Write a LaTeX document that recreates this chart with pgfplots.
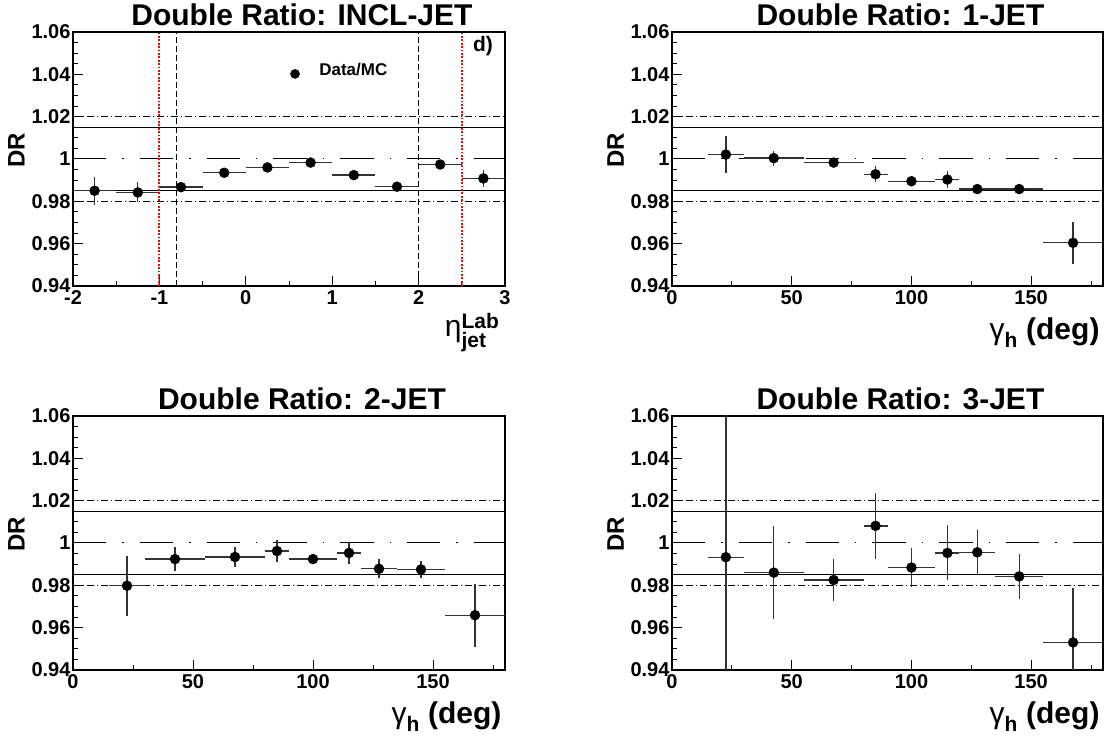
\documentclass[border=0pt]{standalone}
\usepackage{fontspec}
\setmainfont{Liberation Sans}
\usepackage{amsmath}
\usepackage{pgfplots}
\pgfplotsset{compat=1.18}
\newcommand\fsz[1]{\fontsize{#1}{#1}\selectfont\bfseries}
\definecolor{rootred}{RGB}{255,0,0}
\pgfplotsset{
  rootax/.style={
    scale only axis, height=254bp, anchor=south west,
    ymin=0.94, ymax=1.06,
    ytick={0.94,0.96,0.98,1,1.02,1.04,1.06},
    yticklabels={0.94,0.96,0.98,1,1.02,1.04,1.06},
    minor y tick num=3,
    tick align=inside, tick pos=left,
    major tick length=10bp, minor tick length=5bp,
    axis line style={line width=1.2bp},
    every tick/.style={black, line width=1bp},
    tick label style={font=\fsz{20bp}},
    xticklabel style={yshift=-1bp},
    yticklabel style={xshift=1bp},
    /pgf/number format/assume math mode=true,
    ylabel={DR},
    ylabel style={font=\fsz{24bp}, at={(axis description cs:-0.131,0.535)}, anchor=center},
    title style={font=\fsz{30bp}, at={(axis description cs:0.53,1)}, anchor=base, yshift=0.5bp},
    clip=true,
  },
  gamx/.style={
    width=431bp, xmin=0, xmax=180,
    xtick={0,50,100,150}, xticklabels={0,50,100,150},
    minor xtick={25,75,125,175},
    xlabel={$\text{\mdseries γ}_{\text{h}}$ (deg)},
    xlabel style={font=\fsz{30bp}, at={(axis description cs:1,0)}, anchor=base east, yshift=-54bp},
  },
  hl/.style={black, line width=1.3bp},
  hdd/.style={black, line width=1bp, dash pattern=on 7bp off 3bp on 1bp off 3bp},
  hone/.style={black, line width=1bp, dash pattern=on 33.3bp off 16bp on 1.5bp off 16bp},
  dat/.style={only marks, mark=*, mark size=5bp, black, mark options={fill=black},
    error bars/.cd, x dir=both, x explicit, y dir=both, y explicit,
    error mark=none, error bar style={line width=1.3bp, black!80}},
  blkdash/.style={black, line width=1bp, dash pattern=on 6bp off 3bp},
}
\begin{document}
\begin{tikzpicture}
\path[use as bounding box] (0,0) rectangle (1107bp,743bp);

% ---------- Panel 1: INCL-JET ----------
\begin{axis}[rootax, at={(73bp,457bp)}, width=432bp,
  xmin=-2, xmax=3, xtick={-2,-1,0,1,2,3}, xticklabels={-2,-1,0,1,2,3},
  minor x tick num=1,
  title={Double Ratio: INCL-JET},
  xlabel={$\text{\mdseries η}^{\text{Lab}}_{\text{jet}}$},
  xlabel style={font=\fsz{30bp}, at={(axis description cs:1,0)}, anchor=base east, yshift=-51bp, xshift=-2bp},
]
\addplot[hdd] coordinates {(-2,1.02) (3,1.02)};
\addplot[hdd] coordinates {(-2,0.98) (3,0.98)};
\addplot[hl] coordinates {(-2,1.015) (3,1.015)};
\addplot[hl] coordinates {(-2,0.985) (3,0.985)};
\addplot[hone] coordinates {(-2,1.0) (3,1.0)};
\addplot[blkdash] coordinates {(-0.8,0.94) (-0.8,1.06)};
\addplot[blkdash] coordinates {(2.0,0.94) (2.0,1.06)};
\addplot[dat] table[x=x, y=y, x error=ex, y error=ey] {
x ex y ey
-1.75 0.25 0.9850 0.0065
-1.25 0.25 0.9842 0.0047
-0.75 0.25 0.9867 0.0020
-0.25 0.25 0.9935 0.0015
0.25 0.25 0.9960 0.0015
0.75 0.25 0.9983 0.0015
1.25 0.25 0.9924 0.0015
1.75 0.25 0.9869 0.0015
2.25 0.25 0.9974 0.0015
2.75 0.25 0.9908 0.0038
};
\addplot[draw=rootred, line width=1.4bp, dash pattern=on 1.8bp off 1.6bp] coordinates {(-1.003,0.94) (-1.003,1.06)};
\addplot[draw=rootred, line width=1.4bp, dash pattern=on 1.8bp off 1.6bp] coordinates {(2.5,0.94) (2.5,1.06)};
\addplot[only marks, mark=*, mark size=4.6bp, black] coordinates {(0.57,1.0402)};
\node[font=\fsz{17bp}, anchor=west] at (axis cs:0.81,1.0425) {Data/MC};
\node[font=\fsz{21bp}] at (axis cs:2.745,1.0535) {d)};
\end{axis}

% ---------- Panel 2: 1-JET ----------
\begin{axis}[rootax, gamx, at={(672bp,457bp)},
  title={Double Ratio: 1-JET}]
\addplot[hdd] coordinates {(0,1.02) (180,1.02)};
\addplot[hdd] coordinates {(0,0.98) (180,0.98)};
\addplot[hl] coordinates {(0,1.015) (180,1.015)};
\addplot[hl] coordinates {(0,0.985) (180,0.985)};
\addplot[hone] coordinates {(0,1.0) (180,1.0)};
\addplot[dat] table[x=x, y=y, x error=ex, y error=ey] {
x ex y ey
22.5 7.5 1.0021 0.0087
42.5 12.5 1.0004 0.0035
67.5 12.5 0.9983 0.0015
85 5 0.9928 0.0037
100 10 0.9895 0.0015
115 5 0.9903 0.0042
127.5 7.5 0.9858 0.0015
145 10 0.9858 0.0015
167.5 12.5 0.9604 0.0100
};
\end{axis}

% ---------- Panel 3: 2-JET ----------
\begin{axis}[rootax, gamx, at={(73bp,73bp)}, width=432bp,
  title={Double Ratio: 2-JET}]
\addplot[hdd] coordinates {(0,1.02) (180,1.02)};
\addplot[hdd] coordinates {(0,0.98) (180,0.98)};
\addplot[hl] coordinates {(0,1.015) (180,1.015)};
\addplot[hl] coordinates {(0,0.985) (180,0.985)};
\addplot[hone] coordinates {(0,1.0) (180,1.0)};
\addplot[dat] table[x=x, y=y, x error=ex, y error=ey] {
x ex y ey
22.5 7.5 0.9798 0.0142
42.5 12.5 0.9924 0.0058
67.5 12.5 0.9934 0.0049
85 5 0.9962 0.0053
100 10 0.9924 0.0015
115 5 0.9953 0.0051
127.5 7.5 0.9878 0.0045
145 10 0.9875 0.0042
167.5 12.5 0.9659 0.0148
};
\end{axis}

% ---------- Panel 4: 3-JET ----------
\begin{axis}[rootax, gamx, at={(672bp,73bp)},
  title={Double Ratio: 3-JET}]
\addplot[hdd] coordinates {(0,1.02) (180,1.02)};
\addplot[hdd] coordinates {(0,0.98) (180,0.98)};
\addplot[hl] coordinates {(0,1.015) (180,1.015)};
\addplot[hl] coordinates {(0,0.985) (180,0.985)};
\addplot[hone] coordinates {(0,1.0) (180,1.0)};
\addplot[dat] table[x=x, y=y, x error=ex, y error=ey] {
x ex y ey
22.5 7.5 0.9933 0.0800
42.5 12.5 0.9860 0.0220
67.5 12.5 0.9825 0.0099
85 5 1.0081 0.0157
100 10 0.9884 0.0093
115 5 0.9953 0.0130
127.5 7.5 0.9956 0.0106
145 10 0.9842 0.0108
167.5 12.5 0.9530 0.0259
};
\end{axis}
\end{tikzpicture}
\end{document}
